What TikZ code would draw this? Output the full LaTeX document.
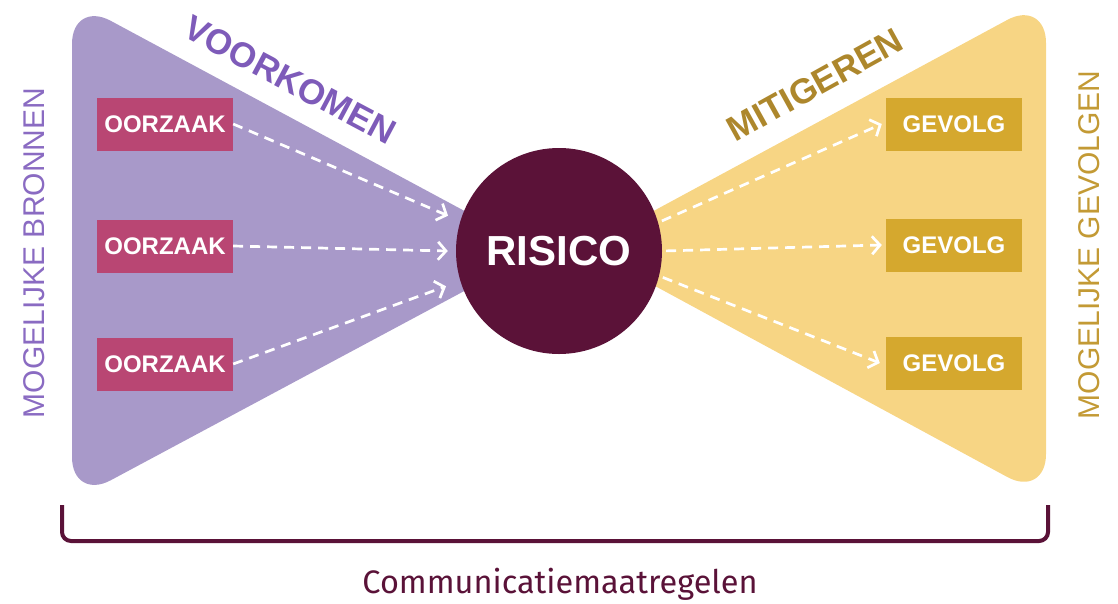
\documentclass[tikz,border=0pt]{standalone}
\usepackage{fontspec}
\setmainfont{Liberation Sans}
\newfontfamily\firafont{Fira Sans}
\usetikzlibrary{arrows.meta}
\definecolor{lav}{HTML}{A899C9}
\definecolor{yel}{HTML}{F7D584}
\definecolor{oorz}{HTML}{B94673}
\definecolor{gev}{HTML}{D5A82E}
\definecolor{riskc}{HTML}{5B1238}
\definecolor{voork}{HTML}{7E5BB9}
\definecolor{mitig}{HTML}{AD872C}
\definecolor{bronc}{HTML}{8A6BC2}
\definecolor{gevc}{HTML}{C39A35}
\definecolor{brack}{HTML}{5A1238}
\tikzset{
  labelbox/.style={minimum width=136pt, minimum height=53pt, inner sep=0pt, text=white,
    font=\bfseries\fontsize{24}{24}\selectfont},
  cause/.style={labelbox, fill=oorz},
  effect/.style={labelbox, fill=gev},
  darr/.style={white, line width=2.7pt, dash pattern=on 10pt off 7pt,
    -{Straight Barb[length=8pt,width=18pt]}},
  sidetext/.style={rotate=90, font=\fontsize{30}{30}\selectfont, inner sep=0pt},
  slanttext/.style={font=\bfseries\fontsize{35}{35}\selectfont, inner sep=0pt}
}
\begin{document}
\begin{tikzpicture}[x=1pt,y=-1pt]
\useasboundingbox (0,0) rectangle (1118,603);
\begin{scope}
\clip (0,0) rectangle (1118,603);
\fill[lav, rounded corners=44pt] (72,0) -- (539,251) -- (72,501) -- cycle;
\fill[yel, rounded corners=44pt] (1046,-1) -- (585,248) -- (1046,498) -- cycle;
\end{scope}

\node[circle, fill=riskc, minimum size=206pt, inner sep=0pt, text=white,
  font=\bfseries\fontsize{42}{42}\selectfont] (risk) at (559,251) {RISICO};

\node[cause] (o1) at (165,124) {OORZAAK};
\node[cause] (o2) at (165,246) {OORZAAK};
\node[cause] (o3) at (165,364) {OORZAAK};

\node[effect] (g1) at (954,124) {GEVOLG};
\node[effect] (g2) at (954,245) {GEVOLG};
\node[effect] (g3) at (954,363) {GEVOLG};

\draw[darr] (o1.east) -- ([xshift=-14pt]risk.160);
\draw[darr] (o2.east) -- ([xshift=-8pt]risk.west);
\draw[darr] (o3.east) -- ([xshift=-16pt]risk.200);

\draw[darr, shorten <=4pt] (risk.16) -- ([xshift=-4pt]g1.west);
\draw[darr, shorten <=4pt] (risk.east) -- ([xshift=-4pt]g2.west);
\draw[darr, shorten <=4pt] (risk.-14) -- ([xshift=-6pt]g3.west);

\node[slanttext, text=voork, rotate=-28] (vk) at (290,80) {VOORKOMEN};
\node[slanttext, text=mitig, rotate=29] (mt) at (815,85) {MITIGEREN};

\node[sidetext, text=bronc] (mb) at (34,253) {MOGELIJKE BRONNEN};
\node[sidetext, text=gevc] (mg) at (1089,245) {MOGELIJKE GEVOLGEN};

\draw[brack, line width=4pt, rounded corners=9pt] (62,505) -- (62,541) -- (1048,541) -- (1048,505);

\node[text=brack, font=\firafont\fontsize{32.5}{32.5}\selectfont, anchor=base, inner sep=0pt] (cm) at (560,593) {Communicatiemaatregelen};
\end{tikzpicture}
\end{document}
